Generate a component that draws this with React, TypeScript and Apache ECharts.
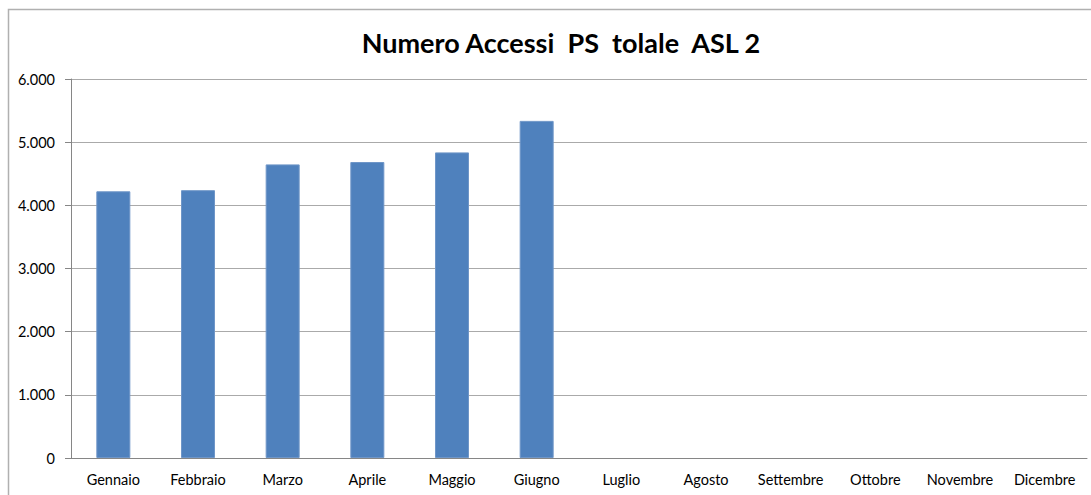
import React, { useEffect, useRef } from "react";
import * as echarts from "echarts";

const titleText = "Numero Accessi  PS  tolale  ASL 2";
const months = [
  "Gennaio", "Febbraio", "Marzo", "Aprile", "Maggio", "Giugno",
  "Luglio", "Agosto", "Settembre", "Ottobre", "Novembre", "Dicembre",
];
const accessi: (number | null)[] = [4222, 4240, 4648, 4686, 4838, 5337, null, null, null, null, null, null];
const yMin = 0;
const yMax = 6000;
const yStep = 1000;

const fmt = (v: number) => (v === 0 ? "0" : v.toLocaleString("de-DE"));

export default function App() {
  const ref = useRef<HTMLDivElement>(null);
  useEffect(() => {
    if (!ref.current) return;
    const chart = echarts.init(ref.current, null, { renderer: "svg" });
    chart.setOption({
      animation: false,
      backgroundColor: "#ffffff",
      textStyle: { fontFamily: "Lato" },
      title: {
        text: titleText,
        left: 556,
        top: 24,
        textAlign: "center",
        textStyle: { fontFamily: "Lato", fontWeight: "bold", fontSize: 27, color: "#000" },
      },
      graphic: [
        {
          type: "rect",
          shape: { x: 8.5, y: 9.5, width: 1200, height: 600 },
          style: { fill: "none", stroke: "#b0b0b0", lineWidth: 1.5 },
          silent: true,
        },
      ],
      grid: { left: 71, right: 4, top: 79, bottom: 37, containLabel: false },
      xAxis: {
        type: "category",
        data: months,
        axisLine: { lineStyle: { color: "#868686", width: 1 } },
        axisTick: { show: false },
        axisLabel: { color: "#000", fontSize: 14.5, margin: 14, fontFamily: "Lato", interval: 0 },
      },
      yAxis: {
        type: "value",
        min: yMin,
        max: yMax,
        interval: yStep,
        axisLine: { show: true, lineStyle: { color: "#868686", width: 1 } },
        axisTick: { show: true, inside: false, length: 6, lineStyle: { color: "#868686" } },
        axisLabel: { color: "#000", fontSize: 14.5, margin: 16, fontFamily: "Lato", formatter: fmt },
        splitLine: { lineStyle: { color: "#aaaaaa", width: 1 } },
      },
      series: [
        {
          type: "bar",
          data: accessi,
          barWidth: 34,
          itemStyle: { color: "#4F81BD", borderColor: "#6f96c8", borderWidth: 1 },
        },
      ],
    });
    return () => chart.dispose();
  }, []);
  return (
    <div
      ref={ref}
      style={{ position: "absolute", left: 0, top: 0, width: 1091, height: 495, overflow: "hidden" }}
    />
  );
}
